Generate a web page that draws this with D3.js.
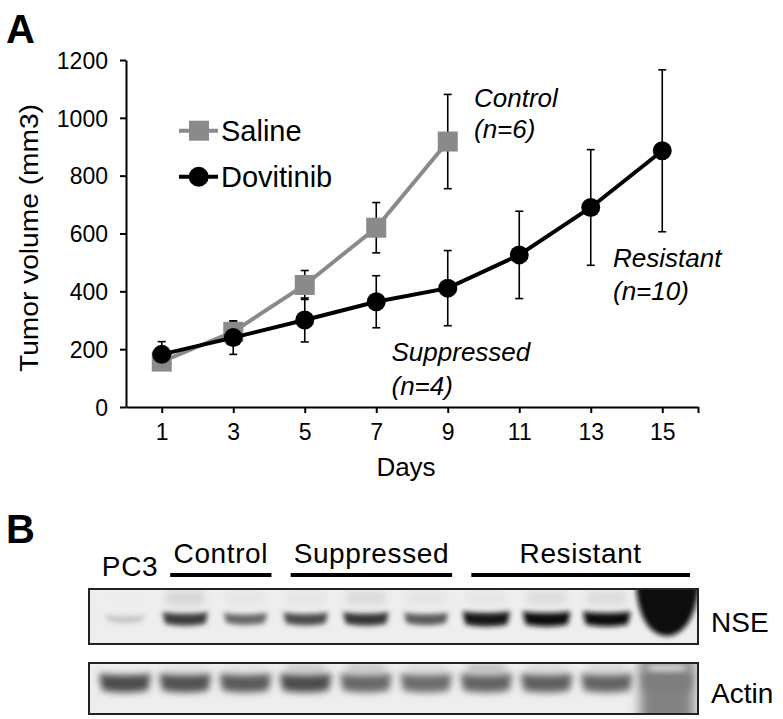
<!DOCTYPE html>
<html><head><meta charset="utf-8">
<script src="https://cdn.jsdelivr.net/npm/d3@7"></script>
<style>
html,body{margin:0;padding:0;background:#fff;}
svg{display:block;font-family:"Liberation Sans",Arial,Helvetica,sans-serif;}
</style></head>
<body>
<svg id="fig" width="783" height="719"></svg>
<script>
// ---------- Panel A data ----------
const days = [1, 3, 5, 7, 9, 11, 13, 15];
const salineDays = [1, 3, 5, 7, 9];
const salineMean = [157, 260, 422, 620, 918];
const salineErr = [25, 37, 50, 87, 163];
const dovDays = [1, 3, 5, 7, 9, 11, 13, 15];
const dovMean = [182, 240, 301, 364, 411, 526, 690, 886];
const dovErr = [44, 58, 76, 90, 130, 151, 200, 280];
const yTicks = [0, 200, 400, 600, 800, 1000, 1200];
const seriesNames = ["Saline", "Dovitinib"];

// ---------- Panel B data ----------
const lanes = ["PC3", "C1", "C2", "S1", "S2", "S3", "R1", "R2", "R3", "R4"];
const nseLevel = [0.18, 0.8, 0.6, 0.72, 0.82, 0.66, 0.97, 1.0, 1.0, 3.0];
const nseUpper = [0.0, 0.1, 0.03, 0.03, 0.08, 0.04, 0.03, 0.07, 0.07, 0.0];
const actinLevel = [0.72, 0.7, 0.66, 0.72, 0.6, 0.58, 0.62, 0.64, 0.62, 0.5];
const actinUpper = [0.0, 0.04, 0.04, 0.16, 0.18, 0.08, 0.22, 0.08, 0.1, 0.08];
const groups = ["PC3", "Control", "Suppressed", "Resistant"];
const groupLanes = [["PC3"], ["C1", "C2"], ["S1", "S2", "S3"], ["R1", "R2", "R3", "R4"]];
const blotRows = ["NSE", "Actin"];

const svg = d3.select("#fig");
const FONT = '"Liberation Sans",Arial,Helvetica,sans-serif';

// ---------- Panel A ----------
const x = d3.scaleLinear().domain([0, 16]).range([126, 698]);
const y = d3.scaleLinear().domain([0, 1200]).range([407, 60]);

svg.append("text").attr("x", 6).attr("y", 43).attr("font-size", 40)
  .attr("font-weight", "bold").text("A");

const yAxis = svg.append("g").attr("transform", `translate(${x(0)},0)`)
  .call(d3.axisLeft(y).tickValues(yTicks).tickSize(6).tickPadding(12).tickSizeOuter(0).tickFormat(d3.format("d")));
yAxis.select(".domain").attr("stroke", "#000").attr("stroke-width", 2);
yAxis.selectAll(".tick line").attr("stroke", "#000").attr("stroke-width", 2);
yAxis.selectAll(".tick text").attr("font-size", 23).attr("font-family", FONT).attr("fill", "#000")
  .attr("dy", "0.36em");

const xAxis = svg.append("g").attr("transform", `translate(0,${y(0)})`)
  .call(d3.axisBottom(x).tickValues(days.concat([16])).tickSize(6).tickSizeOuter(0)
    .tickFormat(d => d === 16 ? "" : d));
xAxis.select(".domain").attr("stroke", "#000").attr("stroke-width", 2);
xAxis.selectAll(".tick line").attr("stroke", "#000").attr("stroke-width", 2);
xAxis.selectAll(".tick text").attr("font-size", 23).attr("font-family", FONT).attr("fill", "#000")
  .attr("y", 33).attr("dy", 0);

svg.append("text").attr("x", 406).attr("y", 476).attr("text-anchor", "middle")
  .attr("font-size", 26).text("Days");
svg.append("text").attr("transform", "translate(38,238) rotate(-90)").attr("text-anchor", "middle")
  .attr("font-size", 26).attr("textLength", 268).attr("lengthAdjust", "spacingAndGlyphs")
  .text("Tumor volume (mm3)");

const gray = "#8a8a8a";
const line = d3.line().x(d => x(d[0])).y(d => y(d[1]));
const salData = salineDays.map((d, i) => [d, salineMean[i], salineErr[i]]);
const dovData = dovDays.map((d, i) => [d, dovMean[i], dovErr[i]]);

function errorBars(data) {
  const g = svg.append("g").attr("stroke", "#000").attr("stroke-width", 1.6);
  data.forEach(d => {
    g.append("line").attr("x1", x(d[0])).attr("x2", x(d[0])).attr("y1", y(d[1] - d[2])).attr("y2", y(d[1] + d[2]));
    g.append("line").attr("x1", x(d[0]) - 4).attr("x2", x(d[0]) + 4).attr("y1", y(d[1] + d[2])).attr("y2", y(d[1] + d[2]));
    g.append("line").attr("x1", x(d[0]) - 4).attr("x2", x(d[0]) + 4).attr("y1", y(d[1] - d[2])).attr("y2", y(d[1] - d[2]));
  });
}
errorBars(salData);
errorBars(dovData);

svg.append("path").datum(salData).attr("d", line).attr("fill", "none").attr("stroke", gray).attr("stroke-width", 4);
svg.selectAll(".sq").data(salData).join("rect").attr("class", "sq")
  .attr("x", d => x(d[0]) - 10).attr("y", d => y(d[1]) - 10).attr("width", 20).attr("height", 20).attr("fill", gray);
svg.append("path").datum(dovData).attr("d", line).attr("fill", "none").attr("stroke", "#000").attr("stroke-width", 4);
svg.selectAll(".ci").data(dovData).join("circle").attr("class", "ci")
  .attr("cx", d => x(d[0])).attr("cy", d => y(d[1])).attr("r", 9.5).attr("fill", "#000");

// legend
const leg = svg.append("g");
[[130.7, gray, "sq"], [176.7, "#000", "ci"]].forEach((p, i) => {
  leg.append("line").attr("x1", 179).attr("x2", 218).attr("y1", p[0]).attr("y2", p[0]).attr("stroke", p[1]).attr("stroke-width", 4);
  if (p[2] === "sq") leg.append("rect").attr("x", 189).attr("y", p[0] - 10).attr("width", 20).attr("height", 20).attr("fill", p[1]);
  else leg.append("circle").attr("cx", 198.7).attr("cy", p[0]).attr("r", 10).attr("fill", p[1]);
  leg.append("text").attr("x", 221).attr("y", p[0] + 10).attr("font-size", 29).text(seriesNames[i]);
});

// annotations
const ann = [["Control", 474, 106.7], ["(n=6)", 474, 138], ["Resistant", 613, 266.7], ["(n=10)", 613, 300],
  ["Suppressed", 391.5, 360.7], ["(n=4)", 391.5, 395]];
svg.selectAll(".ann").data(ann).join("text").attr("class", "ann")
  .attr("x", d => d[1]).attr("y", d => d[2]).attr("font-size", 26).attr("font-style", "italic").text(d => d[0]);

// ---------- Panel B ----------
svg.append("text").attr("x", 6).attr("y", 543).attr("font-size", 40).attr("font-weight", "bold").text("B");

const lx = d3.scalePoint().domain(lanes).range([125, 667]);
const shade = d3.scaleLinear().domain([0, 1]).range(["#ededed", "#0e0e0e"]).clamp(true);
const defs = svg.append("defs");
defs.append("filter").attr("id", "blur").attr("x", "-50%").attr("y", "-50%").attr("width", "200%").attr("height", "200%")
  .append("feGaussianBlur").attr("stdDeviation", 2.4);
defs.append("filter").attr("id", "blur3").attr("x", "-50%").attr("y", "-50%").attr("width", "200%").attr("height", "200%")
  .append("feGaussianBlur").attr("stdDeviation", 3.5);
defs.append("filter").attr("id", "blur2").attr("x", "-50%").attr("y", "-50%").attr("width", "200%").attr("height", "200%")
  .append("feGaussianBlur").attr("stdDeviation", 6);

const boxes = [{ name: "NSE", y0: 589, y1: 644 }, { name: "Actin", y0: 663, y1: 714 }];
boxes.forEach((b, bi) => {
  const cid = "clip" + bi;
  defs.append("clipPath").attr("id", cid).append("rect")
    .attr("x", 89).attr("y", b.y0).attr("width", 609).attr("height", b.y1 - b.y0);
  const g = svg.append("g").attr("clip-path", `url(#${cid})`);
  g.append("rect").attr("x", 89).attr("y", b.y0).attr("width", 609).attr("height", b.y1 - b.y0).attr("fill", "#eeeeee");
  const main = bi === 0 ? nseLevel : actinLevel;
  const upper = bi === 0 ? nseUpper : actinUpper;
  if (bi === 1) {
    // diffuse darker smear of the overloaded last lane
    g.append("rect").attr("x", lx("R4") - 27).attr("y", b.y0 - 10).attr("width", 54).attr("height", b.y1 - b.y0 + 20)
      .attr("fill", shade(0.48)).attr("filter", "url(#blur2)");
  }
  // upper faint bands
  g.selectAll(".up").data(lanes).join("rect").attr("class", "up")
    .attr("x", d => lx(d) - 20).attr("width", 40)
    .attr("y", bi === 0 ? b.y0 + 2 : b.y0 + 1).attr("height", bi === 0 ? 14 : 8)
    .attr("rx", 5).attr("fill", (d, i) => shade(upper[i])).attr("filter", "url(#blur3)");
  // main bands
  g.selectAll(".band").data(lanes).join("path").attr("class", "band")
    .attr("d", (d, i) => {
      const c = lx(d);
      const lvl = main[i];
      if (lvl > 1.5) {
        // saturated blob
        const hw = 29, top = b.y0 - 4, bot = b.y0 + 47;
        return `M${c - hw - 2},${top} L${c + hw + 3},${top} C${c + hw},${bot - 12} ${c + 12},${bot} ${c},${bot} C${c - 14},${bot} ${c - hw},${bot - 14} ${c - hw - 2},${top} Z`;
      }
      const cy = bi === 0 ? 618 : 682;
      const hw = bi === 0 ? 19 + 5 * lvl : 26;
      const h = bi === 0 ? 5 + 8 * lvl : 17;
      return `M${c - hw},${cy - h / 2} Q${c},${cy - h / 2 + 3} ${c + hw},${cy - h / 2} L${c + hw - 3},${cy + h / 2} Q${c},${cy + h / 2 + 4} ${c - hw + 3},${cy + h / 2} Z`;
    })
    .attr("fill", (d, i) => shade(Math.min(main[i], 1.1)))
    .attr("filter", (d, i) => bi === 0 ? "url(#blur)" : "url(#blur3)");
  svg.append("rect").attr("x", 89).attr("y", b.y0).attr("width", 609).attr("height", b.y1 - b.y0)
    .attr("fill", "none").attr("stroke", "#222").attr("stroke-width", 2);
  svg.append("text").attr("x", 711).attr("y", bi === 0 ? 632 : 703).attr("font-size", 28).text(blotRows[bi]);
});

// group labels and bars
const grpLabelY = [576, 563, 563, 563];
groups.forEach((gname, i) => {
  const ls = groupLanes[i];
  const a = lx(ls[0]), z = lx(ls[ls.length - 1]);
  let left = a, right = z;
  if (ls.length > 1) { left = a - 15; right = z + Math.min(26, 80 / ls.length + 3); }
  const cx = ls.length > 1 ? (left + right) / 2 : a + 5;
  svg.append("text").attr("x", cx).attr("y", grpLabelY[i]).attr("text-anchor", "middle")
    .attr("font-size", 28).attr("letter-spacing", 0.6).text(gname);
  if (ls.length > 1) {
    svg.append("rect").attr("x", left).attr("y", 573).attr("width", right - left).attr("height", 4).attr("fill", "#000");
  }
});
</script>
</body></html>
